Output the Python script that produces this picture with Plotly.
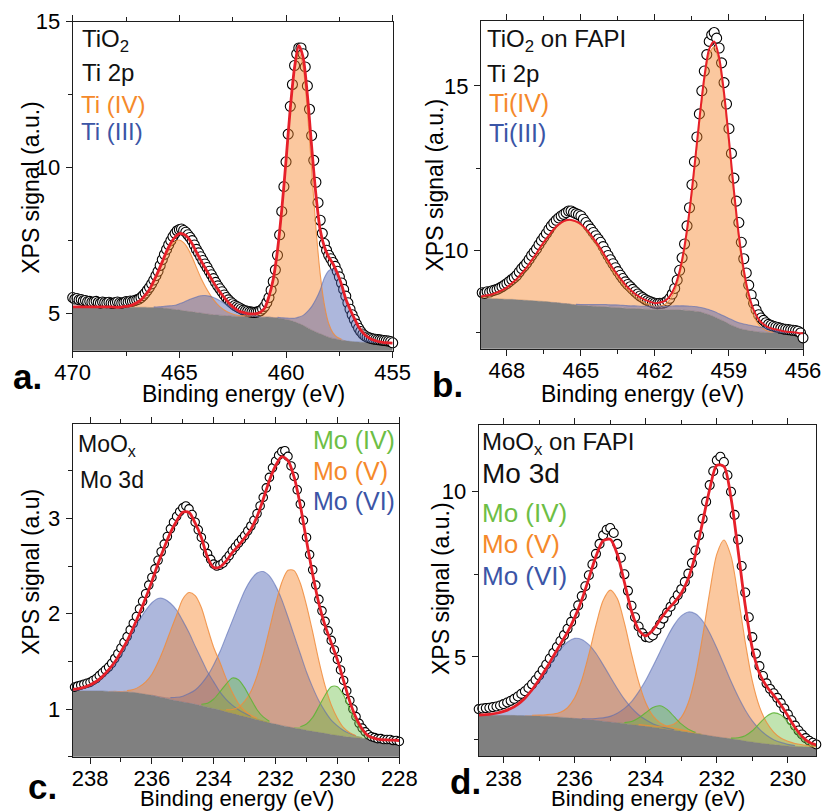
import numpy as np
import plotly.graph_objects as go

W, H = 824, 812
FONT = "Liberation Sans, Arial, Helvetica, sans-serif"

# ---------------- Panel a : TiO2, Ti 2p  (grid 470.0 -> 455.0, step 0.2) ----------------
a_start, a_step = 470.0, 0.2
a_bg = [5.23, 5.23, 5.23, 5.23, 5.23, 5.23, 5.23, 5.23, 5.23, 5.23,
        5.22, 5.22, 5.22, 5.22, 5.22, 5.22, 5.22, 5.22, 5.21, 5.21,
        5.20, 5.19, 5.18, 5.16, 5.14, 5.12, 5.10, 5.08, 5.06, 5.04,
        5.02, 5.00, 4.98, 4.96, 4.95, 4.94, 4.93, 4.92, 4.91, 4.90,
        4.90, 4.89, 4.89, 4.89, 4.88, 4.88, 4.88, 4.87, 4.85, 4.83,
        4.80, 4.77, 4.72, 4.66, 4.60, 4.52, 4.44, 4.37, 4.31, 4.25,
        4.19, 4.15, 4.12, 4.09, 4.07, 4.05, 4.04, 4.03, 4.02, 4.01,
        4.00, 4.00, 3.99, 3.99, 3.99, 3.99]
a_ti4_start = 467.6
a_ti4 = [0.02, 0.04, 0.08, 0.15, 0.25, 0.41, 0.62, 0.89, 1.20, 1.54,
         1.87, 2.15, 2.33, 2.40, 2.33, 2.15, 1.87, 1.54, 1.22, 0.95,
         0.72, 0.52, 0.36, 0.24, 0.15, 0.09, 0.05, 0.03, 0.03, 0.03,
         0.05, 0.08, 0.15, 0.30, 0.70, 1.30, 2.30, 3.70, 5.40, 7.20,
         8.60, 9.30, 8.84, 7.42, 5.49, 3.59, 2.06, 1.05, 0.47, 0.19,
         0.07, 0.03, 0.01]
a_ti3_start = 466.2
a_ti3 = [0.02, 0.03, 0.05, 0.08, 0.11, 0.15, 0.22, 0.29, 0.38, 0.46,
         0.53, 0.59, 0.62, 0.62, 0.59, 0.53, 0.46, 0.38, 0.29, 0.22,
         0.15, 0.11, 0.08, 0.05, 0.03, 0.02, 0.01, 0.01, 0.01, 0.02,
         0.03, 0.05, 0.07, 0.12, 0.22, 0.34, 0.55, 0.80, 1.12, 1.50,
         1.98, 2.28, 2.37, 2.20, 1.88, 1.42, 1.10, 0.80, 0.52, 0.33,
         0.20, 0.12, 0.07, 0.04, 0.02, 0.01]
a_data_start, a_data_step = 470.0, 0.1
a_data = [5.55, 5.50, 5.52, 5.47, 5.48, 5.44, 5.45, 5.41, 5.42, 5.39,
          5.40, 5.42, 5.38, 5.36, 5.40, 5.38, 5.37, 5.39, 5.36, 5.35,
          5.38, 5.40, 5.37, 5.36, 5.38, 5.41, 5.40, 5.43, 5.42, 5.45,
          5.47, 5.50, 5.55, 5.62, 5.70, 5.80, 5.90, 6.02, 6.15, 6.30,
          6.45, 6.65, 6.85, 7.03, 7.20, 7.36, 7.50, 7.64, 7.75, 7.84,
          7.88, 7.90, 7.85, 7.79, 7.70, 7.61, 7.50, 7.35, 7.20, 7.08,
          6.95, 6.82, 6.70, 6.58, 6.45, 6.33, 6.20, 6.07, 5.95, 5.85,
          5.75, 5.64, 5.55, 5.47, 5.40, 5.34, 5.28, 5.24, 5.20, 5.16,
          5.12, 5.10, 5.08, 5.06, 5.05, 5.04, 5.05, 5.07, 5.10, 5.16,
          5.25, 5.38, 5.55, 5.80, 6.10, 6.50, 7.00, 7.70, 8.50, 9.35,
          10.20, 11.15, 12.10, 12.85, 13.50, 13.90, 14.10, 14.10, 13.90, 13.45,
          12.80, 12.00, 11.10, 10.25, 9.50, 8.80, 8.20, 7.75, 7.40, 7.17,
          7.00, 6.88, 6.75, 6.62, 6.45, 6.26, 6.05, 5.83, 5.60, 5.37,
          5.15, 4.96, 4.80, 4.64, 4.50, 4.39, 4.30, 4.24, 4.20, 4.17,
          4.15, 4.13, 4.12, 4.11, 4.10, 4.09, 4.08, 4.07, 4.06, 4.04,
          4.00]

# ---------------- Panel b : TiO2 on FAPI (grid 469.2 -> 456.0, step 0.2) ----------------
b_start, b_step = 469.2, 0.2
b_bg = [8.55, 8.55, 8.55, 8.54, 8.54, 8.53, 8.52, 8.52, 8.51, 8.50,
        8.49, 8.48, 8.47, 8.46, 8.45, 8.43, 8.42, 8.40, 8.39, 8.37,
        8.35, 8.34, 8.33, 8.32, 8.31, 8.30, 8.29, 8.28, 8.27, 8.26,
        8.25, 8.24, 8.24, 8.23, 8.22, 8.22, 8.21, 8.21, 8.20, 8.20,
        8.20, 8.20, 8.19, 8.18, 8.16, 8.14, 8.10, 8.05, 7.99, 7.92,
        7.85, 7.77, 7.70, 7.64, 7.60, 7.57, 7.55, 7.53, 7.52, 7.51,
        7.50, 7.50, 7.49, 7.49, 7.49, 7.48, 7.48]
b_ti4_start = 469.2
b_ti4 = [0.04, 0.06, 0.09, 0.135, 0.19, 0.27, 0.36, 0.49, 0.63, 0.81,
         1.00, 1.22, 1.45, 1.69, 1.91, 2.12, 2.30, 2.44, 2.52, 2.55,
         2.52, 2.44, 2.30, 2.12, 1.91, 1.69, 1.45, 1.22, 1.00, 0.81,
         0.63, 0.49, 0.36, 0.27, 0.19, 0.135, 0.09, 0.11, 0.16, 0.30,
         0.57, 1.06, 1.82, 2.90, 4.25, 5.70, 7.01, 7.92, 8.20, 7.78,
         6.78, 5.42, 3.96, 2.66, 1.64, 0.93, 0.48, 0.23, 0.10, 0.04,
         0.02, 0.01]
b_ti3_start = 466.2
b_ti3 = [0.01, 0.01, 0.01, 0.01, 0.01, 0.015, 0.02, 0.03, 0.04, 0.05,
         0.06, 0.07, 0.07, 0.08, 0.08, 0.08, 0.08, 0.08, 0.08, 0.09,
         0.09, 0.10, 0.10, 0.11, 0.11, 0.12, 0.12, 0.13, 0.13, 0.14,
         0.14, 0.15, 0.15, 0.16, 0.16, 0.16, 0.17, 0.17, 0.17, 0.17,
         0.17, 0.16, 0.15, 0.14, 0.12, 0.10, 0.08, 0.06, 0.04, 0.03,
         0.02, 0.01]
b_data_start, b_data_step = 469.0, 0.1
b_data = [8.72, 8.70, 8.75, 8.74, 8.78, 8.80, 8.82, 8.86, 8.90, 8.95,
          9.00, 9.06, 9.12, 9.18, 9.25, 9.35, 9.45, 9.53, 9.62, 9.73,
          9.85, 9.95, 10.05, 10.18, 10.30, 10.41, 10.52, 10.64, 10.75, 10.84,
          10.92, 10.99, 11.05, 11.10, 11.15, 11.20, 11.20, 11.16, 11.12, 11.09,
          11.05, 10.95, 10.85, 10.75, 10.65, 10.55, 10.45, 10.35, 10.25, 10.12,
          9.98, 9.85, 9.72, 9.60, 9.48, 9.36, 9.25, 9.15, 9.05, 8.97,
          8.90, 8.82, 8.75, 8.68, 8.62, 8.57, 8.52, 8.48, 8.45, 8.42,
          8.40, 8.39, 8.40, 8.40, 8.42, 8.47, 8.55, 8.68, 8.85, 9.10,
          9.40, 9.78, 10.20, 10.75, 11.30, 12.00, 12.70, 13.45, 14.15, 14.85,
          15.45, 15.95, 16.35, 16.55, 16.62, 16.45, 16.15, 15.70, 15.10, 14.45,
          13.70, 12.95, 12.20, 11.50, 10.85, 10.25, 9.75, 9.32, 8.95, 8.65,
          8.40, 8.20, 8.05, 7.95, 7.88, 7.81, 7.76, 7.73, 7.70, 7.68,
          7.66, 7.64, 7.62, 7.61, 7.60, 7.59, 7.58, 7.57, 7.55, 7.50,
          7.35]

# ---------------- Panel c : MoOx, Mo 3d (grid 238.6 -> 228.0, step 0.2) ----------------
c_start, c_step = 238.6, 0.2
c_bg = [1.19, 1.19, 1.19, 1.19, 1.19, 1.19, 1.185, 1.185, 1.18, 1.18,
        1.175, 1.165, 1.155, 1.145, 1.13, 1.115, 1.10, 1.087, 1.075, 1.062,
        1.05, 1.035, 1.02, 1.005, 0.99, 0.972, 0.955, 0.938, 0.922, 0.905,
        0.888, 0.872, 0.856, 0.842, 0.828, 0.815, 0.802, 0.79, 0.778, 0.767,
        0.756, 0.745, 0.734, 0.724, 0.715, 0.707, 0.70, 0.694, 0.688, 0.683,
        0.679, 0.676, 0.673, 0.67]
c_mo6_32_start = 238.6
c_mo6_32 = [0.013, 0.022, 0.038, 0.062, 0.099, 0.15, 0.22, 0.30, 0.41, 0.52,
            0.65, 0.77, 0.88, 0.97, 1.03, 1.04, 1.01, 0.95, 0.85, 0.74,
            0.61, 0.49, 0.37, 0.28, 0.19, 0.13, 0.086, 0.055, 0.033, 0.019,
            0.01, 0.006, 0.003]
c_mo5_32_start = 237.4
c_mo5_32 = [0.005, 0.008, 0.01, 0.015, 0.03, 0.07, 0.13, 0.22, 0.36, 0.53,
            0.72, 0.90, 1.08, 1.16, 1.14, 1.03, 0.83, 0.64, 0.50, 0.35,
            0.22, 0.12, 0.06, 0.03, 0.015, 0.008, 0.004]
c_mo4_32_start = 234.4
c_mo4_32 = [0.015, 0.04, 0.10, 0.19, 0.29, 0.37, 0.37, 0.30, 0.20, 0.105,
            0.045, 0.015]
c_mo6_52_start = 236.0
c_mo6_52 = [0.004, 0.006, 0.01, 0.02, 0.036, 0.06, 0.10, 0.15, 0.23, 0.33,
            0.46, 0.61, 0.79, 0.97, 1.15, 1.32, 1.45, 1.54, 1.57, 1.54,
            1.45, 1.32, 1.15, 0.97, 0.79, 0.61, 0.46, 0.33, 0.23, 0.15,
            0.10, 0.06, 0.036, 0.02, 0.01]
c_mo5_52_start = 233.8
c_mo5_52 = [0.01, 0.02, 0.04, 0.08, 0.16, 0.28, 0.46, 0.70, 0.98, 1.26,
            1.50, 1.64, 1.65, 1.53, 1.31, 1.04, 0.75, 0.50, 0.31, 0.18,
            0.09, 0.045, 0.02, 0.01]
c_mo4_52_start = 231.4
c_mo4_52 = [0.01, 0.025, 0.065, 0.145, 0.27, 0.40, 0.50, 0.51, 0.43, 0.29,
            0.17, 0.077, 0.03, 0.01]
c_data_start, c_data_step = 238.5, 0.1
c_data = [1.23, 1.24, 1.25, 1.26, 1.27, 1.28, 1.30, 1.32, 1.35, 1.38,
          1.41, 1.44, 1.48, 1.53, 1.58, 1.64, 1.70, 1.76, 1.83, 1.90,
          1.97, 2.05, 2.13, 2.21, 2.30, 2.38, 2.47, 2.56, 2.65, 2.73,
          2.81, 2.89, 2.96, 3.02, 3.07, 3.11, 3.13, 3.10, 3.04, 2.96,
          2.88, 2.80, 2.71, 2.63, 2.57, 2.52, 2.50, 2.51, 2.53, 2.57,
          2.61, 2.66, 2.70, 2.74, 2.78, 2.82, 2.87, 2.92, 2.98, 3.05,
          3.13, 3.22, 3.32, 3.43, 3.53, 3.60, 3.66, 3.70, 3.71, 3.65,
          3.55, 3.44, 3.30, 3.15, 2.98, 2.80, 2.62, 2.46, 2.30, 2.15,
          2.03, 1.92, 1.82, 1.72, 1.62, 1.52, 1.41, 1.30, 1.19, 1.09,
          1.00, 0.92, 0.85, 0.80, 0.76, 0.73, 0.71, 0.70, 0.69, 0.69,
          0.68, 0.68, 0.68, 0.67, 0.67, 0.66]

# ---------------- Panel d : MoOx on FAPI (grid 238.8 -> 229.2, step 0.2) ----------------
d_start, d_step = 238.8, 0.2
d_bg = [3.23, 3.23, 3.23, 3.23, 3.23, 3.23, 3.225, 3.22, 3.215, 3.21,
        3.20, 3.19, 3.175, 3.16, 3.14, 3.12, 3.10, 3.08, 3.055, 3.03,
        3.005, 2.98, 2.955, 2.93, 2.90, 2.87, 2.84, 2.81, 2.78, 2.75,
        2.72, 2.685, 2.65, 2.615, 2.58, 2.55, 2.52, 2.49, 2.455, 2.425,
        2.395, 2.37, 2.345, 2.325, 2.305, 2.29, 2.28, 2.27, 2.26]
d_mo6_32_start = 238.8
d_mo6_32 = [0.01, 0.016, 0.033, 0.064, 0.12, 0.205, 0.34, 0.52, 0.77, 1.07,
            1.40, 1.75, 2.06, 2.29, 2.42, 2.41, 2.27, 2.03, 1.71, 1.37,
            1.04, 0.74, 0.50, 0.32, 0.195, 0.11, 0.06, 0.03, 0.015, 0.007]
d_mo5_32_start = 237.4
d_mo5_32 = [0.01, 0.02, 0.03, 0.05, 0.08, 0.15, 0.30, 0.62, 1.18, 1.98,
            2.88, 3.65, 3.99, 3.76, 3.05, 2.14, 1.32, 0.71, 0.35, 0.17,
            0.09, 0.06, 0.04, 0.03, 0.02, 0.01]
d_mo4_32_start = 234.8
d_mo4_32 = [0.01, 0.03, 0.09, 0.22, 0.41, 0.60, 0.68, 0.60, 0.41, 0.22,
            0.09, 0.03, 0.01]
d_mo6_52_start = 236.0
d_mo6_52 = [0.007, 0.014, 0.028, 0.053, 0.098, 0.17, 0.29, 0.46, 0.69, 1.01,
            1.39, 1.84, 2.31, 2.78, 3.19, 3.49, 3.64, 3.62, 3.44, 3.11,
            2.69, 2.22, 1.74, 1.31, 0.94, 0.64, 0.42, 0.26, 0.15, 0.087,
            0.047, 0.024, 0.012, 0.006, 0.003]
d_mo5_52_start = 234.4
d_mo5_52 = [0.01, 0.02, 0.03, 0.04, 0.06, 0.10, 0.19, 0.42, 0.90, 1.75,
            2.97, 4.35, 5.53, 5.99, 5.53, 4.35, 3.00, 1.85, 1.10, 0.65,
            0.38, 0.22, 0.14, 0.09, 0.06, 0.04, 0.03]
d_mo4_52_start = 231.8
d_mo4_52 = [0.005, 0.02, 0.064, 0.16, 0.34, 0.59, 0.83, 0.96, 0.92, 0.72,
            0.46, 0.24, 0.10, 0.04]
d_data_start, d_data_step = 238.7, 0.1
d_data = [3.42, 3.44, 3.45, 3.46, 3.48, 3.50, 3.53, 3.57, 3.62, 3.67,
          3.73, 3.80, 3.88, 3.96, 4.06, 4.17, 4.30, 4.44, 4.60, 4.77,
          4.95, 5.12, 5.30, 5.48, 5.66, 5.85, 6.06, 6.30, 6.56, 6.84,
          7.14, 7.47, 7.80, 8.12, 8.42, 8.68, 8.85, 8.90, 8.75, 8.42,
          8.00, 7.50, 7.00, 6.55, 6.20, 5.92, 5.72, 5.60, 5.58, 5.65,
          5.80, 5.98, 6.16, 6.34, 6.52, 6.70, 6.87, 7.05, 7.27, 7.52,
          7.84, 8.22, 8.68, 9.18, 9.70, 10.20, 10.62, 10.95, 11.06, 10.90,
          10.50, 10.00, 9.30, 8.55, 7.75, 6.95, 6.20, 5.60, 5.10, 4.72,
          4.42, 4.20, 4.03, 3.90, 3.76, 3.60, 3.44, 3.26, 3.08, 2.92,
          2.77, 2.65, 2.54, 2.46, 2.40, 2.35]

# ---------------- styles ----------------
GREY = "#808080"
RED = "#E6202A"
LC = "#1e1e1e"
FILL = {"o": "rgba(247,134,42,0.45)", "b": "rgba(74,96,178,0.45)", "g": "rgba(108,190,69,0.42)"}
EDGE = {"o": "rgba(240,140,60,0.85)", "b": "rgba(85,105,180,0.6)", "g": "rgba(95,180,55,0.9)"}
TXT = {"k": "#111111", "o": "#F5892B", "b": "#3B55A6", "g": "#6DBE45"}

fig = go.Figure()


def add_panel(sfx, g0, step, bg, comps, d0, dstep, data, fitw, msize):
    xa, ya = "x" + sfx, "y" + sfx
    bg = np.array(bg, dtype=float)
    n = len(bg)
    E = g0 - step * np.arange(n)
    total = bg.copy()
    fills, edges = [], []
    for start, vals, key in comps:
        vals = np.array(vals, dtype=float)
        k = int(round((g0 - start) / step))
        idx = np.arange(k, k + len(vals))
        up = bg[idx] + vals
        total[idx] += vals
        xs = np.concatenate([E[idx], E[idx][::-1]])
        ys = np.concatenate([up, bg[idx][::-1]])
        fills.append(go.Scatter(x=xs, y=ys, xaxis=xa, yaxis=ya, mode="lines", fill="toself",
                                fillcolor=FILL[key], line=dict(width=0, shape="spline", smoothing=0.8),
                                hoverinfo="skip"))
        edge_y = [u if v > 0.012 else None for u, v in zip(up, vals)]
        edges.append(go.Scatter(x=E[idx], y=edge_y, xaxis=xa, yaxis=ya, mode="lines",
                                line=dict(color=EDGE[key], width=1.1, shape="spline", smoothing=0.8),
                                hoverinfo="skip"))
    fig.add_trace(go.Scatter(x=E, y=bg, xaxis=xa, yaxis=ya, mode="lines", fill="tozeroy",
                             fillcolor=GREY, line=dict(color=GREY, width=0.5, shape="spline"),
                             hoverinfo="skip"))
    Ed = d0 - dstep * np.arange(len(data))
    fig.add_trace(go.Scatter(x=Ed, y=data, xaxis=xa, yaxis=ya, mode="markers", cliponaxis=False,
                             marker=dict(symbol="circle", size=msize, color="white",
                                         line=dict(color="black", width=1.1))))
    for t in fills:
        fig.add_trace(t)
    for t in edges:
        fig.add_trace(t)
    fig.add_trace(go.Scatter(x=E, y=total, xaxis=xa, yaxis=ya, mode="lines",
                             line=dict(color=RED, width=fitw, shape="spline", smoothing=0.8),
                             hoverinfo="skip"))


add_panel("", a_start, a_step, a_bg,
          [(a_ti4_start, a_ti4, "o"), (a_ti3_start, a_ti3, "b")],
          a_data_start, a_data_step, a_data, 2.8, 10)
add_panel("2", b_start, b_step, b_bg,
          [(b_ti4_start, b_ti4, "o"), (b_ti3_start, b_ti3, "b")],
          b_data_start, b_data_step, b_data, 2.0, 10)
add_panel("3", c_start, c_step, c_bg,
          [(c_mo6_32_start, c_mo6_32, "b"), (c_mo6_52_start, c_mo6_52, "b"),
           (c_mo5_32_start, c_mo5_32, "o"), (c_mo5_52_start, c_mo5_52, "o"),
           (c_mo4_32_start, c_mo4_32, "g"), (c_mo4_52_start, c_mo4_52, "g")],
          c_data_start, c_data_step, c_data, 2.8, 8.5)
add_panel("4", d_start, d_step, d_bg,
          [(d_mo6_32_start, d_mo6_32, "b"), (d_mo6_52_start, d_mo6_52, "b"),
           (d_mo5_32_start, d_mo5_32, "o"), (d_mo5_52_start, d_mo5_52, "o"),
           (d_mo4_32_start, d_mo4_32, "g"), (d_mo4_52_start, d_mo4_52, "g")],
          d_data_start, d_data_step, d_data, 2.8, 9)

# ---------------- axes ----------------
panels = {
    "": dict(box=(72.7, 392.7, 21.7, 350.7), xr=[470, 455], yr=[3.73, 15.0],
             xt=(455, 5, 2.5), yt=(5, 5, 2.5)),
    "2": dict(box=(481, 803, 21, 348.7), xr=[469.05, 456], yr=[7.02, 16.97],
              xt=(456, 3, 1.5), yt=(10, 5, 2.5)),
    "3": dict(box=(72.7, 399.3, 424, 756.7), xr=[238.56, 228], yr=[0.5, 3.99],
              xt=(228, 2, 1), yt=(1, 1, 0.5)),
    "4": dict(box=(478.7, 816.3, 425, 756), xr=[238.7, 229.2], yr=[2.0, 12.02],
              xt=(230, 2, 1), yt=(5, 5, 2.5)),
}


def axis(rng, t0, dt, mdt, domain, mirror, anchor, standoff):
    return dict(range=rng, domain=domain, anchor=anchor, automargin=False,
                showline=True, linecolor=LC, linewidth=1.3,
                mirror=mirror, ticks="outside", ticklen=6, tickwidth=1.3, tickcolor=LC,
                tick0=t0, dtick=dt, showgrid=False, zeroline=False,
                ticklabelstandoff=standoff,
                tickfont=dict(family=FONT, size=22, color="black"),
                minor=dict(ticks="outside", ticklen=4, tickwidth=1.2, tickcolor=LC,
                           tick0=t0, dtick=mdt, showgrid=False))


lay = {}
for sfx, p in panels.items():
    x0, x1, y0, y1 = p["box"]
    xd = [x0 / W, x1 / W]
    yd = [1 - y1 / H, 1 - y0 / H]
    lay["xaxis" + sfx] = axis(p["xr"], *p["xt"], xd, "ticks", "y" + sfx, -4)
    lay["yaxis" + sfx] = axis(p["yr"], *p["yt"], yd, True, "x" + sfx, 1)

# ---------------- texts ----------------
ann = []


def txt(s, px, py, size, color, xanchor="left", angle=0, bold=False):
    ann.append(dict(text=("<b>%s</b>" % s) if bold else s, x=px / W, y=1 - py / H,
                    xref="paper", yref="paper", xanchor=xanchor, yanchor="middle",
                    showarrow=False, textangle=angle,
                    font=dict(family=FONT, size=size, color=color)))


for cx in (244, 642):
    txt("Binding energy (eV)", cx, 394, 23, "black", "center")
for cx in (237, 647.5):
    txt("Binding energy (eV)", cx, 798.5, 22, "black", "center")
txt("XPS signal (a.u.)", 30.8, 187, 23, "black", "center", -90)
txt("XPS signal (a.u.)", 434.5, 185, 23, "black", "center", -90)
txt("XPS signal (a.u)", 31, 572, 23, "black", "center", -90)
txt("XPS signal (a.u.)", 441, 589, 23, "black", "center", -90)

txt("a.", 11, 376, 35, "black", bold=True)
txt("b.", 430, 384, 35, "black", bold=True)
txt("c.", 26, 786, 35, "black", bold=True)
txt("d.", 448, 781, 35, "black", bold=True)

txt("TiO<sub>2</sub>", 80, 40, 24, TXT["k"])
txt("Ti 2p", 80, 72, 24, TXT["k"])
txt("Ti (IV)", 79, 104.5, 24, TXT["o"])
txt("Ti (III)", 79, 131.5, 24, TXT["b"])
txt("TiO<sub>2</sub> on FAPI", 485, 40, 24, TXT["k"])
txt("Ti 2p", 485, 73, 24, TXT["k"])
txt("Ti(IV)", 487, 102.5, 25, TXT["o"])
txt("Ti(III)", 487, 133, 25, TXT["b"])
txt("MoO<sub>x</sub>", 76, 445, 23, TXT["k"])
txt("Mo 3d", 78, 480, 23, TXT["k"])
txt("Mo (IV)", 311, 439.5, 25, TXT["g"])
txt("Mo (V)", 311, 471.3, 25, TXT["o"])
txt("Mo (VI)", 311, 501.3, 25, TXT["b"])
txt("MoO<sub>x</sub> on FAPI", 480, 443, 24, TXT["k"])
txt("Mo 3d", 480, 473.5, 28, TXT["k"])
txt("Mo (IV)", 480, 512.6, 26, TXT["g"])
txt("Mo (V)", 480, 544.2, 26, TXT["o"])
txt("Mo (VI)", 480, 575.9, 26, TXT["b"])

fig.update_layout(width=W, height=H, margin=dict(l=0, r=0, t=0, b=0),
                  paper_bgcolor="white", plot_bgcolor="white", showlegend=False,
                  annotations=ann, font=dict(family=FONT), **lay)

fig.write_html("out.html", config={"displayModeBar": False},
               post_script="document.body.style.margin='0px';document.body.style.overflow='hidden';")
